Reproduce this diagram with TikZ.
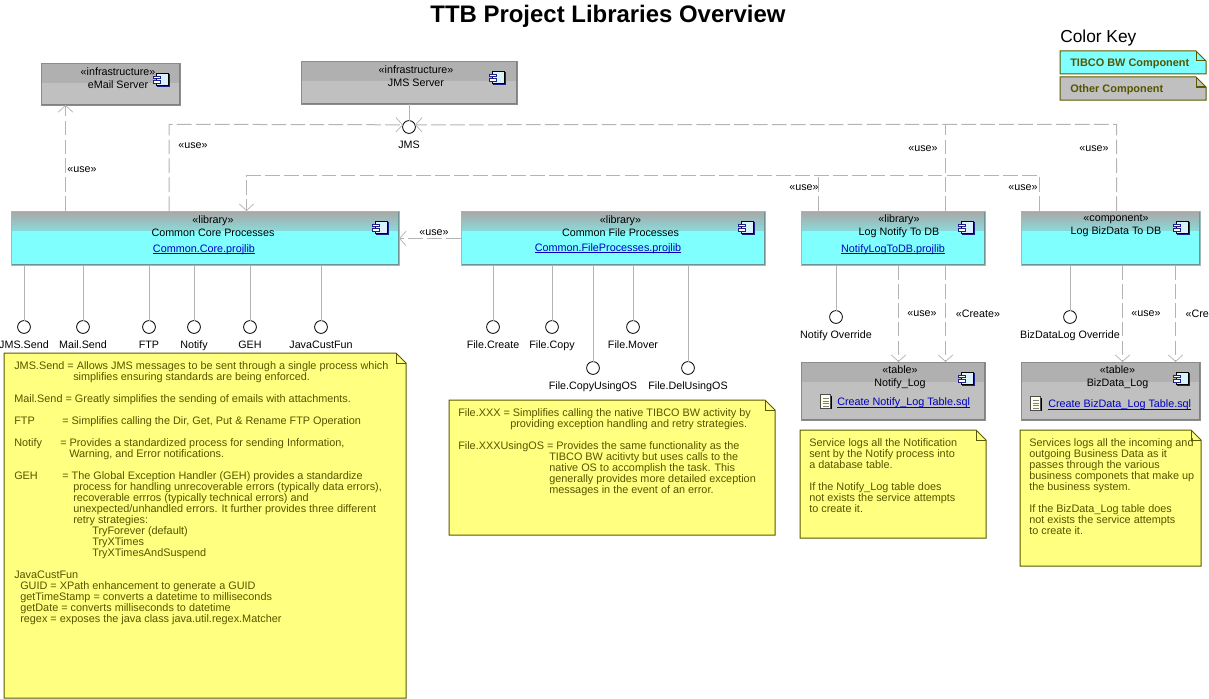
\documentclass[tikz,border=0pt]{standalone}
\usepackage{fontspec}
\setmainfont{Liberation Sans}
\usetikzlibrary{positioning, arrows.meta}
\definecolor{cyanbody}{HTML}{80FFFF}
\definecolor{cyanhead}{HTML}{8AD8D8}
\definecolor{boxtop}{HTML}{A8A8A8}
\definecolor{grayhead}{HTML}{B0B0B0}
\definecolor{graybody}{HTML}{C0C0C0}
\definecolor{depline}{HTML}{B4B4B4}
\definecolor{notefill}{HTML}{FFFF80}
\definecolor{noteline}{HTML}{5A5A00}
\definecolor{notefont}{HTML}{555500}
\definecolor{linkblue}{HTML}{0000C0}
\definecolor{iconblue}{HTML}{20208C}
\tikzset{
x=0.75pt, y=-0.75pt, % one unit is one pixel of the reference, y runs down
basebox/.style={rectangle, anchor=north west, inner sep=0pt, outer sep=0pt}, % common to all component boxes
cyanbox/.style={basebox, draw=boxtop!80!cyanbody, line width=0.6pt, fill=cyanbody, path picture={
    \foreach \n in {0,...,9} {
        \pgfmathsetmacro{\mix}{\n*11}
        \fill[cyanhead!\mix!boxtop] ([yshift=-\n*1.5pt]path picture bounding box.north west) rectangle ([yshift=-\n*1.5pt-1.6pt]path picture bounding box.north east);
    }
    \draw[boxtop!60!black!70!cyanbody, line width=1.4pt] (path picture bounding box.south west) -- (path picture bounding box.south east) -- (path picture bounding box.north east);
}},
graybox/.style={basebox, draw=gray!90, line width=0.6pt, fill=graybody, path picture={
    \fill[grayhead] (path picture bounding box.north west) rectangle ([yshift=-15pt]path picture bounding box.north east);
    \draw[gray, line width=1.4pt] (path picture bounding box.south west) -- (path picture bounding box.south east) -- (path picture bounding box.north east);
}},
boxtext/.style={align=center, font=\fontsize{8.05}{9.7}\selectfont, inner sep=0pt}, % stereotype and name
linktext/.style={font=\fontsize{8.1}{9.4}\selectfont, text=linkblue, inner sep=0pt},
usetext/.style={font=\fontsize{8.05}{9.4}\selectfont, inner sep=1pt},
notetext/.style={anchor=north west, align=left, inner sep=0pt, text=notefont, font=\fontsize{8.15}{8.25}\selectfont},
keytext/.style={anchor=west, inner sep=0pt, text=notefont, font=\bfseries\fontsize{8.2}{9.4}\selectfont},
notepath/.style={draw=noteline, line width=0.75pt},
lolly/.style={circle, draw=black, fill=white, line width=0.6pt, minimum size=9.6pt, inner sep=0pt, outer sep=0pt,
    label={[font=\fontsize{8.05}{9.4}\selectfont, label distance=2.2pt]below:#1}},
stem/.style={draw=depline, line width=0.75pt},
dep/.style={draw=depline, line width=0.75pt, dash pattern=on 11pt off 3.2pt}, % dashed dependency
deparrow/.style={dep, -{Straight Barb[length=5pt, width=11pt, line width=0.55pt]}},
compicon/.pic={
    \draw[iconblue, fill=iconblue] (-3.5,-5.5) rectangle (8.5,7);
    \draw[black, fill=white!85!cyan, line width=0.5pt] (-4.5,-6.5) rectangle (7.5,6);
    \draw[iconblue, fill=white, line width=0.5pt] (-8,-3.5) rectangle (-1,-0.8);
    \draw[iconblue, fill=white, line width=0.5pt] (-8,1) rectangle (-1,3.7);
},
docicon/.pic={
    \fill[black] (-4,-6.5) rectangle (6,7);
    \draw[black!70, fill=yellow!10, line width=0.4pt] (-5.5,-7.5) rectangle (4.5,6);
    \draw[gray, line width=0.5pt] (-3.5,-3.5) -- (2.5,-3.5) (-3.5,-1) -- (2.5,-1) (-3.5,1.5) -- (2.5,1.5) (-3.5,4) -- (2.5,4);
},
}
% dog-eared note: fill colour, name, north west corner, south east corner
\newcommand{\notebox}[4][notefill]{
    \coordinate (#2nw) at (#3);
    \coordinate (#2se) at (#4);
    \path[notepath, fill=#1] (#2nw) -- ([xshift=-7.5pt]#2nw -| #2se) -- ([yshift=-7.5pt]#2nw -| #2se) -- (#2se) -- (#2nw |- #2se) -- cycle;
    \draw[notepath] ([xshift=-7.5pt]#2nw -| #2se) |- ([yshift=-7.5pt]#2nw -| #2se);
}
% hyperlink look, the rule sits just below the baseline
\newcommand{\linku}[1]{\setbox0=\hbox{#1}\rlap{\rule[-1.1pt]{\wd0}{0.5pt}}\box0}

\begin{document}
\begin{tikzpicture}
    \useasboundingbox (0,0) rectangle (1209,699);
    \node[font=\bfseries\fontsize{17.95}{20}\selectfont, inner sep=0pt] (title) at (608,16.5) {TTB Project Libraries Overview};

    % color key
    \node[font=\fontsize{13}{15}\selectfont, inner sep=0pt, anchor=west] (keytitle) at (1060,38.5) {Color Key};
    \notebox[cyanbody]{keycyan}{1060,51}{1206,74}
    \notebox[graybody]{keygray}{1060,77}{1206,100}
    \node[keytext] (keycyantext) at (1070,64) {TIBCO BW Component};
    \node[keytext] (keygraytext) at (1070,90) {Other Component};

    % component boxes
    \node[graybox, minimum width=104.25pt, minimum height=31.5pt] (email) at (41,63) {};
    \node[graybox, minimum width=162pt, minimum height=32.25pt] (jmsserver) at (301,61) {};
    \node[cyanbox, minimum width=291pt, minimum height=40.5pt] (core) at (11,211) {};
    \node[cyanbox, minimum width=228pt, minimum height=40.5pt] (file) at (461,211) {};
    \node[cyanbox, minimum width=138pt, minimum height=40.5pt] (notify) at (801,211) {};
    \node[cyanbox, minimum width=134.25pt, minimum height=40.5pt] (bizdata) at (1021,211) {};
    \node[graybox, minimum width=138pt, minimum height=43.5pt] (notifylog) at (801,362) {};
    \node[graybox, minimum width=134.25pt, minimum height=43.5pt] (bizdatalog) at (1021,362) {};

    \node[boxtext] (emailtext) at (118,78) {«infrastructure»\\eMail Server};
    \node[boxtext] (jmsservertext) at (416,76) {«infrastructure»\\JMS Server};
    \node[boxtext] (coretext) at (213,226) {«library»\\Common Core Processes};
    \node[boxtext] (filetext) at (620.5,226) {«library»\\Common File Processes};
    \node[boxtext] (notifytext) at (899,226) {«library»\\Log Notify To DB};
    \node[boxtext] (bizdatatext) at (1116,226) {«component»\\Log BizData To DB};
    \node[boxtext] (notifylogtext) at (900,377) {«table»\\Notify\_Log};
    \node[boxtext] (bizdatalogtext) at (1117.5,377) {«table»\\BizData\_Log};

    \node[linktext] (corelink) at (204,249.5) {\linku{Common.Core.projlib}};
    \node[linktext] (filelink) at (608,248.5) {\linku{Common.FileProcesses.projlib}};
    \node[linktext] (notifylink) at (893,249.5) {\linku{NotifyLogToDB.projlib}};
    \node[linktext, anchor=west] (notifyloglink) at (837,403) {\linku{Create Notify\_Log Table.sql}};
    \node[linktext, anchor=west] (bizdataloglink) at (1048,405) {\linku{Create BizData\_Log Table.sql}};

    \pic at (161,79.5) {compicon};
    \pic at (497,77.5) {compicon};
    \pic at (380,227.5) {compicon};
    \pic at (746,227.5) {compicon};
    \pic at (966,227.5) {compicon};
    \pic at (1181,227.5) {compicon};
    \pic at (966,378.5) {compicon};
    \pic at (1181,378.5) {compicon};
    \pic at (826,402) {docicon};
    \pic at (1036,404) {docicon};

    % interfaces
    \node[lolly=JMS] (jms) at (409,127) {};
    \node[lolly=JMS.Send] (jmssend) at (24,327) {};
    \node[lolly=Mail.Send] (mailsend) at (83,327) {};
    \node[lolly=FTP] (ftp) at (149,327) {};
    \node[lolly=Notify] (notifyport) at (194,327) {};
    \node[lolly=GEH] (geh) at (250,327) {};
    \node[lolly=JavaCustFun] (javacustfun) at (321,327) {};
    \node[lolly=File.Create] (filecreate) at (493,327) {};
    \node[lolly=File.Copy] (filecopy) at (552,327) {};
    \node[lolly=File.Mover] (filemover) at (633,327) {};
    \node[lolly=File.CopyUsingOS] (filecopyos) at (593,368) {};
    \node[lolly=File.DelUsingOS] (filedelos) at (688,368) {};
    \node[lolly=Notify Override] (notifyover) at (836,317) {};
    \node[lolly=BizDataLog Override] (bizdataover) at (1070,317) {};

    \draw[stem] (jmsserver.south -| jms) -- (jms);
    \draw[stem] (core.south -| jmssend) -- (jmssend);
    \draw[stem] (core.south -| mailsend) -- (mailsend);
    \draw[stem] (core.south -| ftp) -- (ftp);
    \draw[stem] (core.south -| notifyport) -- (notifyport);
    \draw[stem] (core.south -| geh) -- (geh);
    \draw[stem] (core.south -| javacustfun) -- (javacustfun);
    \draw[stem] (file.south -| filecreate) -- (filecreate);
    \draw[stem] (file.south -| filecopy) -- (filecopy);
    \draw[stem] (file.south -| filemover) -- (filemover);
    \draw[stem] (file.south -| filecopyos) -- (filecopyos);
    \draw[stem] (file.south -| filedelos) -- (filedelos);
    \draw[stem] (notify.south -| notifyover) -- (notifyover);
    \draw[stem] (bizdata.south -| bizdataover) -- (bizdataover);

    % dependencies
    \coordinate (tapmail) at (65.5,0);
    \coordinate (tapcore) at (169,0);
    \coordinate (tapdb) at (246.5,0);
    \coordinate (tapnotifya) at (818.5,0);
    \coordinate (tapnotifyb) at (945.5,0);
    \coordinate (tapbiza) at (1039.5,0);
    \coordinate (tapbizb) at (1116.5,0);
    \coordinate (tapuse) at (898.5,0);
    \coordinate (tapbizuse) at (1122.5,0);
    \coordinate (tapbizmake) at (1175.5,0);
    \coordinate (busjms) at (0,124.3);
    \coordinate (busdb) at (0,175.7);
    \coordinate (fileout) at (0,238.5);

    \draw[deparrow] (core.north -| tapmail) -- (email.south -| tapmail);
    \draw[deparrow] (core.north -| tapcore) -- (tapcore |- busjms) -- (jms.160);
    \draw[deparrow] (bizdata.north -| tapbizb) -- (tapbizb |- busjms) -- (jms.20);
    \draw[dep] (notify.north -| tapnotifyb) -- (tapnotifyb |- busjms);
    \draw[deparrow] (bizdata.north -| tapbiza) -- (tapbiza |- busdb) -- (tapdb |- busdb) -- (core.north -| tapdb);
    \draw[dep] (notify.north -| tapnotifya) -- (tapnotifya |- busdb);
    \draw[deparrow] (file.west |- fileout) -- (core.east |- fileout);
    \draw[deparrow] (notify.south -| tapuse) -- (notifylog.north -| tapuse);
    \draw[deparrow] (notify.south -| tapnotifyb) -- (notifylog.north -| tapnotifyb);
    \draw[deparrow] (bizdata.south -| tapbizuse) -- (bizdatalog.north -| tapbizuse);
    \draw[deparrow] (bizdata.south -| tapbizmake) -- (bizdatalog.north -| tapbizmake);

    \node[usetext] (usemail) at (82,170) {«use»};
    \node[usetext] (usecore) at (193,146) {«use»};
    \node[usetext] (usenotifyb) at (923,149) {«use»};
    \node[usetext] (usebizb) at (1094,149) {«use»};
    \node[usetext] (usenotifya) at (804,188) {«use»};
    \node[usetext] (usebiza) at (1023,188) {«use»};
    \node[usetext, fill=white] (usefile) at (434,232.5) {«use»};
    \node[usetext] (usenotifylog) at (922,314) {«use»};
    \node[usetext] (createnotifylog) at (978,314) {«Create»};
    \node[usetext] (usebizlog) at (1146,314) {«use»};
    \node[usetext, anchor=west] (createbizlog) at (1184,314) {«Create»};

    % notes
    \notebox{corenote}{4,353}{406,698}
    \node[notetext] (corenotetext) at (14,361.5) {JMS.Send = Allows JMS messages to be sent through a single process which\\
        \hspace*{44.25pt}simplifies ensuring standards are being enforced.\\
        \\
        Mail.Send = Greatly simplifies the sending of emails with attachments.\\
        \\
        \makebox[36pt][l]{FTP}= Simplifies calling the Dir, Get, Put \& Rename FTP Operation\\
        \\
        \makebox[34.5pt][l]{Notify}= Provides a standardized process for sending Information,\\
        \hspace*{41.25pt}Warning, and Error notifications.\\
        \\
        \makebox[36pt][l]{GEH}= The Global Exception Handler (GEH) provides a standardize\\
        \hspace*{44.25pt}process for handling unrecoverable errors (typically data errors),\\
        \hspace*{44.25pt}recoverable errros (typically technical errors) and\\
        \hspace*{44.25pt}unexpected/unhandled errors.  It further provides three different\\
        \hspace*{44.25pt}retry strategies:\\
        \hspace*{58.5pt}TryForever (default)\\
        \hspace*{58.5pt}TryXTimes\\
        \hspace*{58.5pt}TryXTimesAndSuspend\\
        \\
        JavaCustFun\\
        \hspace*{4.5pt}GUID = XPath enhancement to generate a GUID\\
        \hspace*{4.5pt}getTimeStamp = converts a datetime to milliseconds\\
        \hspace*{4.5pt}getDate = converts milliseconds to datetime\\
        \hspace*{4.5pt}regex = exposes the java class java.util.regex.Matcher};

    \notebox{filenote}{449,400}{775,535}
    \node[notetext] (filenotetext) at (458,408.5) {File.XXX = Simplifies calling the native TIBCO BW activity by\\
        \hspace*{39pt}providing exception handling and retry strategies.\\
        \\
        File.XXXUsingOS = Provides the same functionality as the\\
        \hspace*{68.25pt}TIBCO BW acitivty but uses calls to the\\
        \hspace*{68.25pt}native OS to accomplish the task.  This\\
        \hspace*{68.25pt}generally provides more detailed exception\\
        \hspace*{68.25pt}messages in the event of an error.};

    \notebox{notifynote}{800,430}{986,538}
    \node[notetext] (notifynotetext) at (809,438.5) {Service logs all the Notification\\
        sent by the Notify process into\\
        a database table.\\
        \\
        If the Notify\_Log table does\\
        not exists the service attempts\\
        to create it.};

    \notebox{biznote}{1020,430}{1201,566}
    \node[notetext] (biznotetext) at (1029,438.5) {Services logs all the incoming and\\
        outgoing Business Data as it\\
        passes through the various\\
        business componets that make up\\
        the business system.\\
        \\
        If the BizData\_Log table does\\
        not exists the service attempts\\
        to create it.};
\end{tikzpicture}
\end{document}
